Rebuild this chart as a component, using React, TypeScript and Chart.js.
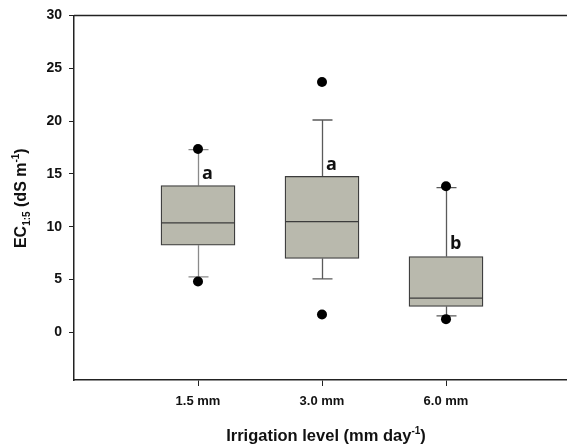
import React, { useEffect, useRef } from "react";
import { Chart, registerables } from "chart.js";

Chart.register(...registerables);

const categories = ["1.5 mm", "3.0 mm", "6.0 mm"];
const q1 = [8.25, 7.0, 2.46];
const medians = [10.36, 10.49, 3.24];
const q3 = [13.9, 14.77, 7.18];
const whiskerLow = [5.26, 5.07, 1.57];
const whiskerHigh = [17.3, 20.1, 13.7];
const outliers = [
  [17.35, 4.82],
  [23.7, 1.7],
  [13.83, 1.26],
];
const letters = ["a", "a", "b"];
const letterY = [14.5, 15.4, 7.9];
const yTicks = [0, 5, 10, 15, 20, 25, 30];

const whiskerColors = ["#8a8a8a", "#5a5a5a", "#5a5a5a"];
const AXIS_FONT = "'Liberation Sans', Arial, sans-serif";

type Part = { text: string; size: number; dy: number };

function drawRich(ctx: CanvasRenderingContext2D, parts: Part[], cx: number, cy: number) {
  let total = 0;
  const widths = parts.map((p) => {
    ctx.font = `bold ${p.size}px ${AXIS_FONT}`;
    const w = ctx.measureText(p.text).width;
    total += w;
    return w;
  });
  let x = cx - total / 2;
  ctx.textBaseline = "alphabetic";
  ctx.textAlign = "left";
  parts.forEach((p, i) => {
    ctx.font = `bold ${p.size}px ${AXIS_FONT}`;
    ctx.fillText(p.text, x, cy + p.dy);
    x += widths[i];
  });
}

const boxPlugin = {
  id: "boxExtras",
  beforeDatasetsDraw(chart: any) {
    const { ctx, scales } = chart;
    const xs = scales.x;
    const ys = scales.y;
    ctx.save();
    categories.forEach((_, i) => {
      const px = Math.round(xs.getPixelForValue(i + 1)) + 0.5;
      ctx.strokeStyle = whiskerColors[i];
      ctx.lineWidth = 1.3;
      ctx.beginPath();
      ctx.moveTo(px, ys.getPixelForValue(q3[i]));
      ctx.lineTo(px, ys.getPixelForValue(whiskerHigh[i]));
      ctx.moveTo(px, ys.getPixelForValue(q1[i]));
      ctx.lineTo(px, ys.getPixelForValue(whiskerLow[i]));
      const hy = ys.getPixelForValue(whiskerHigh[i]);
      const ly = ys.getPixelForValue(whiskerLow[i]);
      ctx.moveTo(px - 10, hy);
      ctx.lineTo(px + 10, hy);
      ctx.moveTo(px - 10, ly);
      ctx.lineTo(px + 10, ly);
      ctx.stroke();
    });
    ctx.restore();
  },
  afterDatasetsDraw(chart: any) {
    const { ctx, scales, chartArea } = chart;
    const xs = scales.x;
    const ys = scales.y;
    const meta = chart.getDatasetMeta(0);
    ctx.save();
    ctx.strokeStyle = "#3c3c3c";
    ctx.lineWidth = 1.3;
    meta.data.forEach((el: any, i: number) => {
      const my = ys.getPixelForValue(medians[i]);
      ctx.beginPath();
      ctx.moveTo(el.x - el.width / 2, my);
      ctx.lineTo(el.x + el.width / 2, my);
      ctx.stroke();
    });
    ctx.fillStyle = "#111";
    ctx.font = "bold 18px 'Open Sans', sans-serif";
    ctx.textAlign = "left";
    ctx.textBaseline = "alphabetic";
    letters.forEach((l, i) => {
      ctx.fillText(l, xs.getPixelForValue(i + 1) + 4, ys.getPixelForValue(letterY[i]));
    });
    ctx.strokeStyle = "#222";
    ctx.lineWidth = 1.5;
    ctx.beginPath();
    ctx.moveTo(chartArea.left, chartArea.top);
    ctx.lineTo(chartArea.right, chartArea.top);
    ctx.lineTo(chartArea.right, chartArea.bottom);
    ctx.stroke();
    ctx.restore();
  },
  afterDraw(chart: any) {
    const { ctx, chartArea } = chart;
    ctx.save();
    ctx.fillStyle = "#111";
    drawRich(
      ctx,
      [
        { text: "Irrigation level (mm day", size: 16.5, dy: 0 },
        { text: "-1", size: 10, dy: -7 },
        { text: ")", size: 16.5, dy: 0 },
      ],
      326,
      441
    );
    ctx.translate(26, (chartArea.top + chartArea.bottom) / 2 + 0.5);
    ctx.rotate(-Math.PI / 2);
    drawRich(
      ctx,
      [
        { text: "EC", size: 16, dy: 0 },
        { text: "1:5", size: 10, dy: 4 },
        { text: " (dS m", size: 16, dy: 0 },
        { text: "-1", size: 10, dy: -7 },
        { text: ")", size: 16, dy: 0 },
      ],
      0,
      0
    );
    ctx.restore();
  },
};

export default function App() {
  const ref = useRef<HTMLCanvasElement | null>(null);
  useEffect(() => {
    if (!ref.current) return;
    const chart = new Chart(ref.current, {
      type: "bar",
      data: {
        datasets: [
          {
            type: "bar",
            data: categories.map((_, i) => ({ x: i + 1, y: [q1[i], q3[i]] })) as any,
            backgroundColor: "#b9b9ad",
            borderColor: "#3c3c3c",
            borderWidth: 1.3,
            borderSkipped: false,
            barThickness: 74,
          },
          {
            type: "scatter",
            data: outliers.flatMap((vals, i) => vals.map((v) => ({ x: i + 1, y: v }))) as any,
            backgroundColor: "#000",
            borderWidth: 0,
            pointRadius: 5,
          },
        ],
      },
      options: {
        animation: false,
        responsive: false,
        devicePixelRatio: 1,
        layout: { padding: { top: 15, right: 10, left: 0, bottom: 0 } },
        plugins: { legend: { display: false }, tooltip: { enabled: false } },
        scales: {
          x: {
            type: "linear",
            min: 0,
            max: 4,
            offset: false,
            afterBuildTicks: (s: any) => {
              s.ticks = categories.map((_, i) => ({ value: i + 1 }));
            },
            afterFit: (s: any) => {
              s.height = 66;
            },
            grid: { offset: false, drawOnChartArea: false, drawTicks: true, tickLength: 6, color: "#222", lineWidth: 1 },
            border: { display: true, color: "#222", width: 1.5 },
            ticks: {
              callback: (v: any) => categories[Number(v) - 1] ?? "",
              font: { family: AXIS_FONT, size: 13, weight: "bold" },
              color: "#111",
              padding: 8,
              maxRotation: 0,
              autoSkip: false,
            },
          },
          y: {
            type: "linear",
            min: -4.5,
            max: 30,
            afterBuildTicks: (s: any) => {
              s.ticks = yTicks.map((v) => ({ value: v }));
            },
            afterFit: (s: any) => {
              s.width = 74;
            },
            grid: { drawOnChartArea: false, drawTicks: true, tickLength: 5, color: "#222", lineWidth: 1 },
            border: { display: true, color: "#222", width: 1.5 },
            ticks: {
              font: { family: AXIS_FONT, size: 14, weight: "bold" },
              color: "#111",
              padding: 7,
            },
          },
        },
      },
      plugins: [boxPlugin],
    });
    return () => chart.destroy();
  }, []);
  return (
    <div style={{ position: "absolute", left: 0, top: 0, width: 567, height: 446, overflow: "hidden", background: "#fff" }}>
      <canvas ref={ref} width={580} height={446} style={{ width: 580, height: 446, display: "block" }} />
    </div>
  );
}
